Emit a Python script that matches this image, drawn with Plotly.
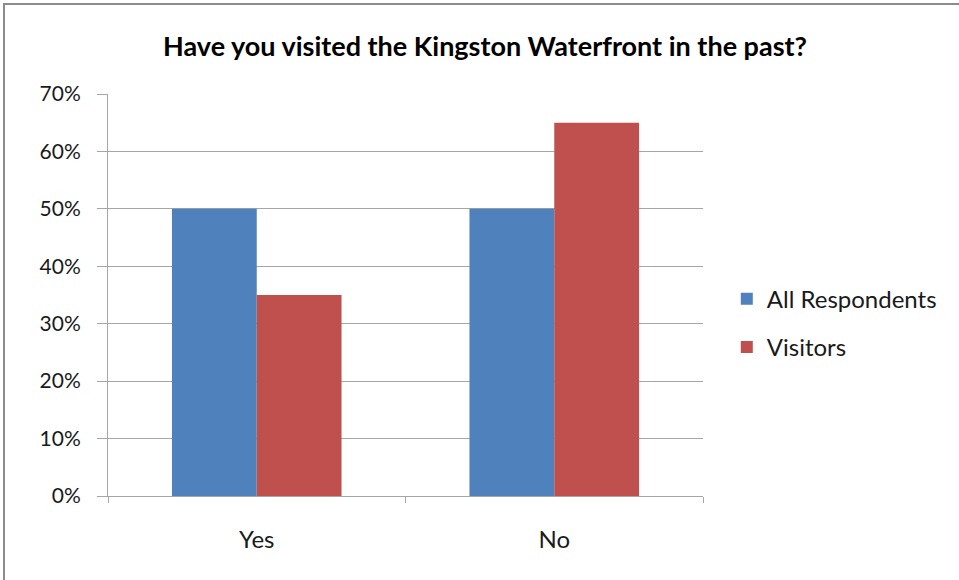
import plotly.graph_objects as go

# Survey answers and share of each group
categories = ["Yes", "No"]
all_respondents = [0.50, 0.50]
visitors = [0.35, 0.65]
y_ticks = [0, 0.1, 0.2, 0.3, 0.4, 0.5, 0.6, 0.7]
y_tick_labels = ["0%", "10%", "20%", "30%", "40%", "50%", "60%", "70%"]

FONT = "Lato"
GRID = "#a6a6a6"

fig = go.Figure()
fig.add_trace(go.Bar(name="All Respondents", x=categories, y=all_respondents,
                     marker=dict(color="#4f81bd", line=dict(width=0)),
                     legendgroup="a"))
fig.add_trace(go.Bar(name="Visitors", x=categories, y=visitors,
                     marker=dict(color="#c0504d", line=dict(width=0)),
                     legendgroup="b"))

fig.update_layout(
    width=959, height=580,
    margin=dict(l=108, r=256, t=94, b=84),
    paper_bgcolor="white", plot_bgcolor="white",
    font=dict(family=FONT, size=20, color="#1a1a1a"),
    barmode="group", bargap=0.43, bargroupgap=0,
    title=dict(text="<b>Have you visited the Kingston Waterfront in the past?</b>",
               x=485 / 959, xref="container", xanchor="center",
               y=1 - 47 / 580, yref="container", yanchor="middle",
               font=dict(family=FONT, size=27, color="#000000")),
    legend=dict(x=1.04, y=0.43, xanchor="left", yanchor="middle",
                traceorder="grouped", tracegroupgap=14,
                font=dict(family=FONT, size=24, color="#1a1a1a"),
                bgcolor="rgba(0,0,0,0)"),
    showlegend=True,
)

fig.update_xaxes(
    showline=True, linecolor=GRID, linewidth=1,
    ticks="outside", ticklen=6, tickcolor=GRID,
    tickson="boundaries", showgrid=False,
    ticklabelstandoff=22,
    tickfont=dict(family=FONT, size=24, color="#1a1a1a"),
)
fig.update_yaxes(
    range=[0, 0.7], tickvals=y_ticks, ticktext=y_tick_labels,
    showline=True, linecolor=GRID, linewidth=1,
    showgrid=True, gridcolor=GRID, gridwidth=1,
    ticks="outside", ticklen=10, tickcolor=GRID,
    ticklabelstandoff=12, zeroline=False,
    tickfont=dict(family=FONT, size=21, color="#1a1a1a"),
)

# Chart frame (top and left edges fall inside the page)
fig.add_shape(type="rect", xref="paper", yref="paper",
              x0=(4 - 108) / 595, x1=2.0, y0=-1.0, y1=(496 - 4) / 402,
              line=dict(color="#8c8c8c", width=2), layer="below")

fig.write_html("out.html")
